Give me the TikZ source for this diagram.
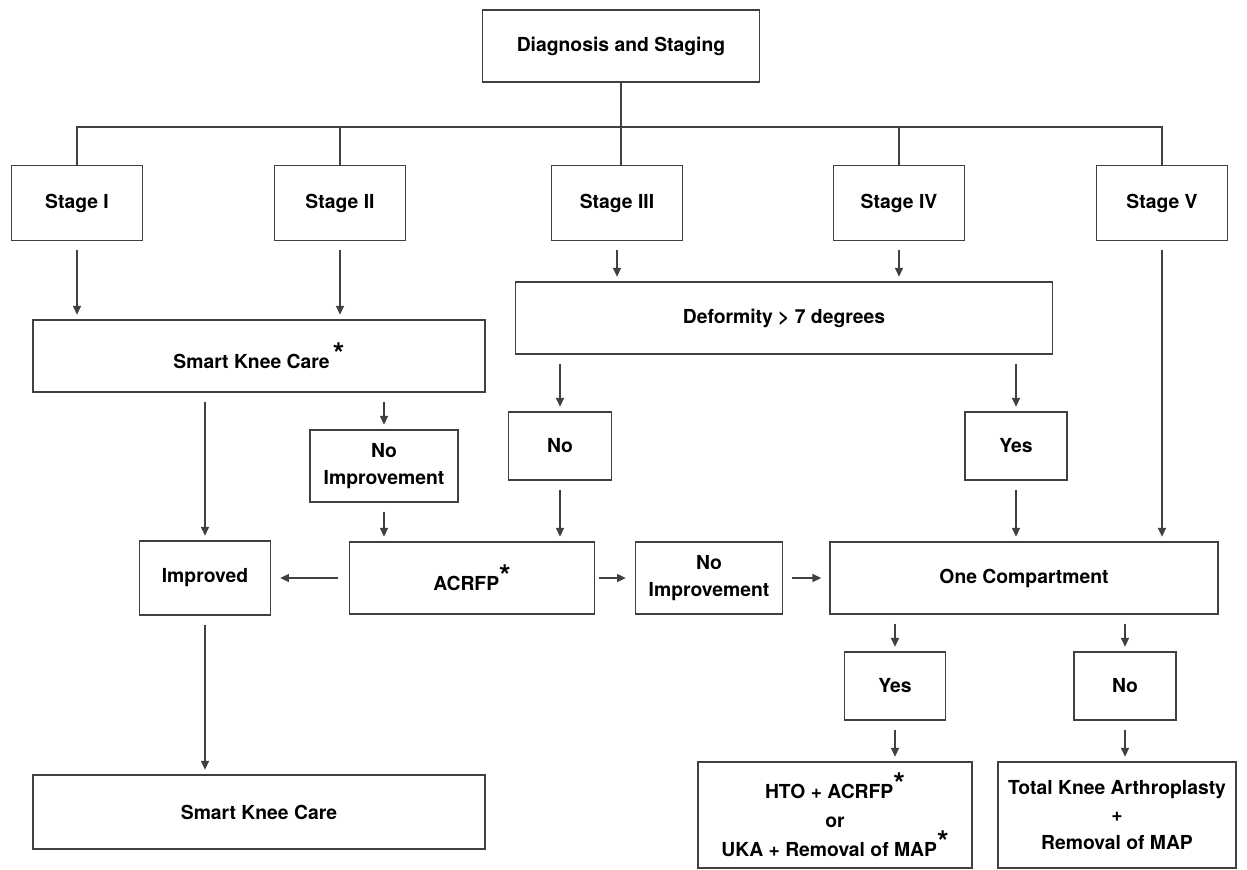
\documentclass[tikz,border=0pt]{standalone}
\usepackage{fontspec}
\setmainfont{TeX Gyre Heros}
\usepackage{tikz}
\usetikzlibrary{arrows.meta}

\newcommand{\starmark}{\raisebox{0.4ex}{\fontsize{17}{17}\selectfont *}}

\begin{document}
\begin{tikzpicture}[
x=0.02cm,y=-0.02cm,
>={Triangle[length=5pt,width=4.5pt]},
every node/.style={font=\fontsize{11}{15}\selectfont\bfseries},
box/.style={draw=black!75,line width=1pt,align=center,inner sep=2pt},
link/.style={draw=black!75,line width=0.9pt},
arr/.style={link,->,shorten <=5pt,shorten >=2.5pt}
]
\useasboundingbox (0,0) rectangle (1247,869);

% Diagnosis
\node[box,minimum width=5.54cm,minimum height=1.44cm] (diag) at (621,46) {Diagnosis and Staging};

% Stages
\node[box,minimum width=2.62cm,minimum height=1.5cm] (stage1) at (77,203) {Stage I};
\node[box,minimum width=2.62cm,minimum height=1.5cm] (stage2) at (340,203) {Stage II};
\node[box,minimum width=2.62cm,minimum height=1.5cm] (stage3) at (617,203) {Stage III};
\node[box,minimum width=2.62cm,minimum height=1.5cm] (stage4) at (899,203) {Stage IV};
\node[box,minimum width=2.62cm,minimum height=1.5cm] (stage5) at (1162,203) {Stage V};

% Bus
\coordinate (bus) at (621,127);
\draw[link] (diag.south) -- (diag.south |- stage3.north);
\draw[link] (stage1.north) |- (bus) -| (stage5.north);
\draw[link] (stage2.north) -- (stage2.north |- bus);
\draw[link] (stage4.north) -- (stage4.north |- bus);

% Second row
\node[box,minimum width=9.04cm,minimum height=1.44cm] (care) at (259,356) {Smart Knee Care\,\starmark};
\node[box,minimum width=10.74cm,minimum height=1.44cm] (deform) at (784,318) {Deformity > 7 degrees};

\node[box,minimum width=2.96cm,minimum height=1.44cm] (noimp) at (384,466) {No\\Improvement};
\node[box,minimum width=2.06cm,minimum height=1.36cm] (no) at (560,446) {No};
\node[box,minimum width=2.04cm,minimum height=1.36cm] (yes) at (1016,446) {Yes};

% Middle row
\node[box,minimum width=2.62cm,minimum height=1.48cm] (improved) at (205,578) {Improved};
\node[box,minimum width=4.9cm,minimum height=1.44cm] (acrfp) at (472,578) {ACRFP\starmark};
\node[box,minimum width=2.94cm,minimum height=1.44cm] (noimpb) at (709,578) {No\\Improvement};
\node[box,minimum width=7.76cm,minimum height=1.44cm] (onecomp) at (1024,578) {One Compartment};

% Lower rows
\node[box,minimum width=2.02cm,minimum height=1.36cm] (yesb) at (895,686) {Yes};
\node[box,minimum width=2.04cm,minimum height=1.36cm] (nob) at (1125,686) {No};

\node[box,minimum width=9.04cm,minimum height=1.48cm] (careb) at (259,812) {Smart Knee Care};
\node[box,minimum width=5.48cm,minimum height=2.12cm,font=\fontsize{11}{16.5}\selectfont\bfseries] (hto) at (835,815)
  {HTO + ACRFP\starmark\\or\\UKA + Removal of MAP\starmark};
\node[box,minimum width=4.76cm,minimum height=2.12cm,font=\fontsize{11}{15.5}\selectfont\bfseries] (tka) at (1117,815)
  {Total Knee Arthroplasty\\+\\Removal of MAP};

% Arrows
\draw[arr] (stage1.south) -- (stage1.south |- care.north);
\draw[arr] (stage2.south) -- (stage2.south |- care.north);
\draw[arr] (stage3.south) -- (stage3.south |- deform.north);
\draw[arr] (stage4.south) -- (stage4.south |- deform.north);
\draw[arr] (stage5.south) -- (stage5.south |- onecomp.north);

\draw[arr] (improved.north |- care.south) -- (improved.north);
\draw[arr] (noimp.north |- care.south) -- (noimp.north);
\draw[arr] (noimp.south) -- (noimp.south |- acrfp.north);
\draw[arr] (no.north |- deform.south) -- (no.north);
\draw[arr] (yes.north |- deform.south) -- (yes.north);
\draw[arr] (no.south) -- (no.south |- acrfp.north);
\draw[arr] (yes.south) -- (yes.south |- onecomp.north);

\draw[arr,shorten <=6pt,shorten >=5pt] (acrfp.west) -- (improved.east);
\draw[arr,shorten <=2pt,shorten >=5pt] (acrfp.east) -- (noimpb.west);
\draw[arr,shorten <=5pt,shorten >=4.5pt] (noimpb.east) -- (onecomp.west);

\draw[arr] (yesb.north |- onecomp.south) -- (yesb.north);
\draw[arr] (nob.north |- onecomp.south) -- (nob.north);
\draw[arr] (yesb.south) -- (yesb.south |- hto.north);
\draw[arr] (nob.south) -- (nob.south |- tka.north);
\draw[arr] (improved.south) -- (improved.south |- careb.north);

\end{tikzpicture}
\end{document}
